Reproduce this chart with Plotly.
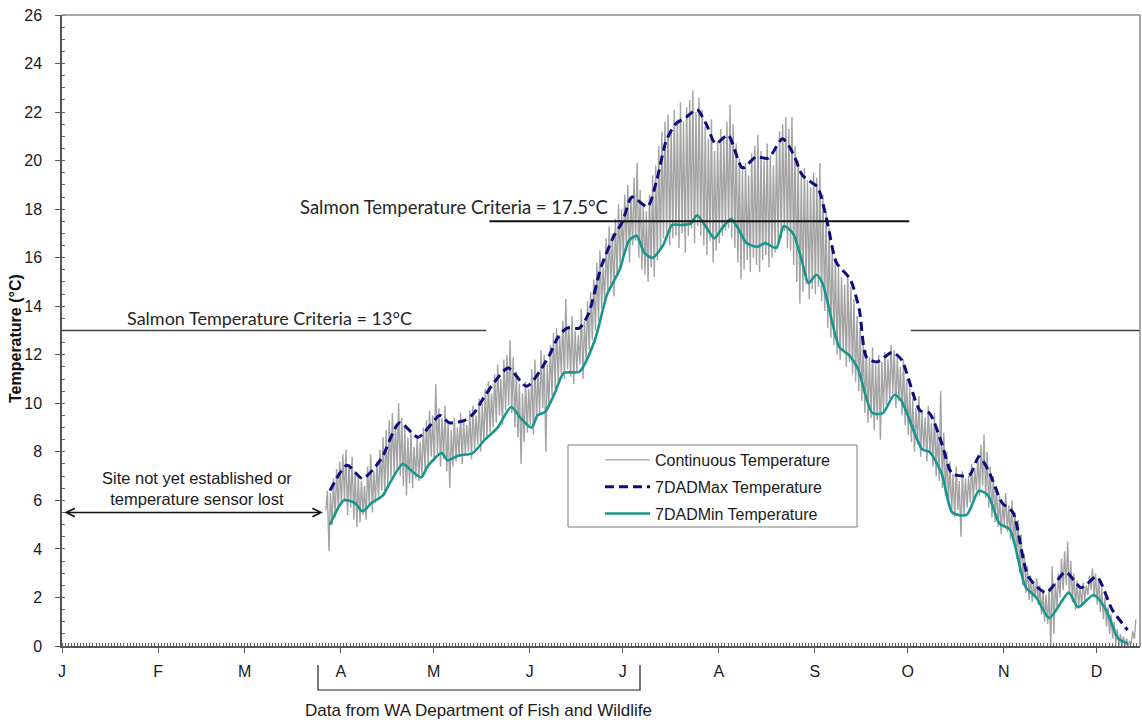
import plotly.graph_objects as go

# ---------------- data ----------------
month_starts = [0, 31, 59, 90, 120, 151, 181, 212, 243, 273, 304, 334]
month_labels = ["J", "F", "M", "A", "M", "J", "J", "A", "S", "O", "N", "D"]

cont_start_day = 85
cont_hi = [
    6.4, 6.3, 6.9, 7.3, 7.6, 7.9, 8.1, 7.5, 7.8, 7.2,
    7.0, 6.8, 6.6, 7.4, 7.9, 7.2, 7.6, 8.1, 8.6, 8.9,
    9.3, 9.6, 9.1, 10.0, 9.4, 9.0, 8.6, 8.8, 8.2, 8.6,
    8.4, 9.0, 9.3, 9.7, 9.5, 10.8, 9.8, 9.4, 9.9, 9.2,
    8.9, 9.4, 9.0, 9.6, 9.3, 9.1, 9.7, 9.9, 9.5, 10.2,
    10.0, 10.6, 10.9, 10.4, 11.2, 11.6, 11.0, 11.8, 12.0, 12.6,
    11.9, 11.3, 10.8, 10.4, 10.9, 10.6, 11.4, 11.8, 11.3, 12.2,
    12.0, 11.6, 12.4, 12.9, 13.1, 12.8, 13.4, 14.3, 13.2, 13.6,
    13.0, 12.8, 13.9, 13.4, 14.2, 14.6, 15.1, 15.8, 16.3, 15.6,
    16.8, 17.3, 17.0, 17.6, 18.2, 18.0, 18.6, 19.0, 18.5, 19.3,
    19.9, 18.8, 18.2, 17.9, 18.6, 19.4, 19.8, 20.6, 21.2, 21.6,
    21.9, 21.3, 22.1, 21.7, 22.4, 21.6, 22.2, 22.5, 22.9, 22.0,
    22.6, 22.1, 21.4, 20.9, 21.7, 20.4, 20.8, 21.3, 20.9, 21.6,
    22.3, 21.5, 20.7, 20.1, 19.6, 19.9, 19.4, 20.3, 20.6, 21.05,
    20.4, 20.0, 20.7, 20.2, 19.8, 20.5, 21.2, 21.5, 21.8, 21.3,
    21.8, 20.6, 20.0, 19.4, 19.7, 19.2, 18.9, 19.5, 19.3, 19.9,
    18.6, 17.9, 17.2, 16.5, 16.0, 15.6, 15.2, 14.9, 15.3, 14.8,
    14.3, 13.6, 13.1, 12.5, 12.2, 11.9, 12.3, 11.6, 12.0, 11.7,
    12.1, 11.8, 12.4, 12.2, 11.9, 11.5, 11.8, 11.0, 10.6, 10.2,
    9.8, 10.3, 9.6, 9.4, 9.9, 9.2, 9.6, 9.0, 10.5, 8.8,
    8.0, 7.6, 7.1, 7.4, 6.8, 7.2, 6.9, 7.0, 7.5, 7.3,
    7.9, 8.3, 8.7, 8.0, 7.4, 7.0, 6.6, 6.2, 5.9, 6.3,
    5.8, 6.0, 5.5, 5.2, 4.6, 3.8, 3.3, 2.9, 2.6, 2.8,
    2.5, 2.3, 2.1, 2.4, 3.3, 2.6, 3.0, 3.6, 3.9, 4.3,
    3.5, 3.0, 2.7, 2.4, 2.6, 2.5, 2.9, 3.2, 3.0, 2.8,
    2.4, 2.0, 1.6, 1.3, 1.0, 0.7, 0.5, 0.4, 0.3, 0.2, 0.6, 1.1,
]
cont_lo = [
    5.6, 3.9, 5.0, 5.3, 5.6, 5.8, 6.0, 5.4, 5.7, 5.2,
    4.9, 5.1, 5.4, 5.2, 5.8, 5.5, 5.9, 6.1, 6.4, 6.2,
    6.6, 6.9, 7.1, 7.3, 7.0, 6.6, 6.2, 6.7, 6.5, 6.9,
    6.8, 7.0, 7.3, 7.5, 7.8, 7.6, 7.9, 7.4, 7.7, 7.2,
    6.5, 7.4, 7.6, 7.8, 7.5, 7.9, 8.0, 7.7, 8.1, 8.3,
    8.0, 8.4, 8.6, 8.8, 9.0, 9.2, 9.5, 9.1, 9.7, 9.9,
    9.6, 9.0, 8.6, 7.5, 8.4, 8.8, 9.1, 8.7, 9.3, 9.6,
    9.8, 8.0, 9.9, 10.3, 10.6, 10.9, 11.2, 11.0, 11.4, 11.1,
    10.8, 11.3, 11.6, 11.0, 11.8, 12.2, 12.6, 13.0, 13.4, 13.9,
    14.2, 14.5, 14.9, 14.4, 15.2, 15.6, 16.0, 16.3, 15.8, 16.5,
    16.7, 16.0, 15.5, 15.3, 15.0, 15.6, 15.2, 15.9, 16.3, 16.8,
    17.0, 16.5, 16.8, 16.9, 16.4, 17.0, 16.2, 16.9, 17.2, 16.6,
    17.3, 16.9, 16.5, 16.1, 16.7, 15.8, 16.3, 16.6, 16.9, 17.1,
    17.2, 16.8, 16.4, 15.8, 15.1, 15.5, 15.9, 15.4, 16.0, 15.7,
    15.4, 15.9, 16.1, 15.6, 16.0, 16.2, 16.6, 16.8, 17.1, 16.4,
    16.3, 15.7, 15.0, 14.1, 14.6, 14.9, 14.3, 14.7, 14.5, 14.8,
    14.2, 13.8, 13.1, 12.7, 12.4, 12.0, 11.8, 12.1, 11.5, 11.7,
    11.2, 10.9, 10.5, 10.1, 9.6, 9.2, 9.4, 8.9, 9.3, 8.5,
    9.6, 9.9, 10.2, 10.4, 9.8, 10.1, 9.5, 9.1, 8.7, 8.4,
    8.0, 8.3, 7.8, 8.1, 7.6, 7.9, 7.4, 7.0, 6.8, 6.5,
    6.2, 5.8, 5.5, 5.3, 5.6, 4.5, 5.4, 5.7, 5.9, 6.0,
    6.4, 6.2, 6.6, 6.1, 5.7, 5.3, 5.1, 4.9, 4.6, 5.0,
    4.7, 4.4, 4.2, 3.6, 3.0, 2.5, 2.2, 1.9, 1.8, 2.0,
    1.7, 1.3, 1.0, 0.9, 0.0, 0.5, 1.6, 2.0, 2.3, 2.5,
    2.1, 1.8, 1.5, 1.6, 1.7, 1.9, 2.1, 2.3, 2.0, 1.7,
    1.4, 1.1, 0.8, 0.5, 0.3, 0.1, 0.0, 0.0, 0.0, 0.0, 0.1, 0.3,
]

max7_day = [86.5, 92, 97, 103, 109, 115, 122, 125, 130, 133,
            137, 144, 150, 157, 160, 163, 167, 170, 174, 178,
            181, 184, 189, 192, 195, 198, 201.6, 205, 208, 211,
            215, 219.7, 224, 228, 232.6, 236, 239, 242, 244, 247,
            250, 254.5, 257.4, 259.7, 263, 268, 271, 277, 280, 284,
            287.4, 293, 296, 299, 303.5, 307, 312, 317.7, 324, 329,
            334, 339, 344]
max7_val = [6.4, 7.45, 6.9, 7.7, 9.2, 8.6, 9.5, 9.2, 9.3, 9.6,
            10.4, 11.45, 10.7, 11.9, 12.7, 13.1, 13.1, 13.7, 15.6, 16.85,
            17.5, 18.5, 18.1, 19.2, 20.8, 21.5, 21.8, 22.1, 21.5, 20.7,
            21.05, 19.7, 20.15, 20.1, 20.9, 20.3, 19.4, 19.1, 18.9, 17.5,
            15.8, 15.1, 13.85, 11.9, 11.7, 12.1, 11.8, 9.7, 9.6, 8.35,
            7.1, 7.05, 7.8, 7.25, 5.9, 5.5, 2.85, 2.2, 3.05, 2.4,
            2.85, 1.5, 0.66]

min7_day = [86.5, 91, 94.5, 97, 100, 103.5, 106, 110, 113, 116,
            118, 122.6, 124.5, 128, 132.6, 136.5, 140.6, 145, 148, 151.6,
            153.5, 156, 159, 162, 167, 172, 176, 180, 183, 185.5,
            188, 190.6, 194, 197, 200, 203, 205, 208, 210.6, 213,
            216, 218.7, 221, 224.5, 227, 230.6, 233, 236, 239, 241,
            243.5, 245.5, 251, 254, 257, 261.6, 265, 268.7, 271, 277.7,
            280, 284, 287.4, 292, 296, 299, 302.6, 306, 311, 314.5,
            318.7, 325, 328, 333, 337, 341, 344]
min7_val = [5.0, 6.0, 5.9, 5.55, 5.9, 6.2, 6.75, 7.5, 7.2, 6.95,
            7.4, 7.95, 7.65, 7.85, 7.95, 8.5, 9.0, 9.85, 9.4, 9.0,
            9.5, 9.65, 10.4, 11.25, 11.3, 12.6, 14.5, 15.5, 16.7, 16.9,
            16.2, 16.0, 16.5, 17.35, 17.35, 17.4, 17.75, 17.25, 16.8, 17.2,
            17.6, 17.1, 16.6, 16.45, 16.6, 16.4, 17.3, 17.0, 15.8, 14.95,
            15.3, 14.95, 12.3, 12.0, 11.4, 9.6, 9.6, 10.35, 10.1, 8.1,
            8.0, 7.1, 5.5, 5.4, 6.4, 6.2, 5.05, 4.8, 2.45, 2.0,
            1.15, 2.2, 1.6, 2.1, 1.5, 0.3, 0.1]

criteria_13 = 13.0
criteria_13_spans = [(0, 137), (274, 348)]
criteria_175 = 17.5
criteria_175_span = (138, 273.5)
no_data_end_day = 84.2

# ---------------- build ----------------
cont_x, cont_y = [], []
for i, (lo, hi) in enumerate(zip(cont_lo, cont_hi)):
    d = cont_start_day + i
    cont_x += [d + 0.2, d + 0.65]
    cont_y += [lo, hi]

ARIAL = "Arial, Liberation Sans, sans-serif"
CAL = "Lato, Open Sans, sans-serif"

fig = go.Figure()
fig.add_trace(go.Scatter(x=cont_x, y=cont_y, mode="lines", name="Continuous Temperature",
                         line=dict(color="#a3a3a3", width=1.4), legendgroup="a"))
fig.add_trace(go.Scatter(x=max7_day, y=max7_val, mode="lines", name="7DADMax Temperature",
                         line=dict(color="#0d0d80", width=3, dash="9px,5px", shape="spline", smoothing=0.7),
                         legendgroup="b"))
fig.add_trace(go.Scatter(x=min7_day, y=min7_val, mode="lines", name="7DADMin Temperature",
                         line=dict(color="#17978b", width=2.6, shape="spline", smoothing=0.7),
                         legendgroup="c"))

shapes = []
for a, b in criteria_13_spans:
    shapes.append(dict(type="line", xref="x", yref="y", x0=a, x1=b, y0=criteria_13, y1=criteria_13,
                       line=dict(color="#404040", width=1.5), layer="above"))
shapes.append(dict(type="line", xref="x", yref="y", x0=criteria_175_span[0], x1=criteria_175_span[1],
                   y0=criteria_175, y1=criteria_175, line=dict(color="#111111", width=2), layer="above"))
# frame top / right
shapes.append(dict(type="line", xref="paper", yref="paper", x0=0, x1=1, y0=1, y1=1,
                   line=dict(color="#8c8c8c", width=1.5)))
shapes.append(dict(type="line", xref="paper", yref="paper", x0=1, x1=1, y0=0, y1=1,
                   line=dict(color="#8c8c8c", width=1.5)))
# legend box
shapes.append(dict(type="rect", xref="paper", yref="paper",
                   x0=(568 - 62) / 1078, x1=(857 - 62) / 1078,
                   y0=(646 - 527) / 631, y1=(646 - 445) / 631,
                   line=dict(color="#7f7f7f", width=1), fillcolor="white", layer="above"))
# bracket under axis
bx0, bx1 = (318 - 62) / 1078, (640 - 62) / 1078
by0, by1 = (646 - 665) / 631, (646 - 690) / 631
shapes.append(dict(type="path", xref="paper", yref="paper",
                   path=f"M{bx0},{by0} L{bx0},{by1} L{bx1},{by1} L{bx1},{by0}",
                   line=dict(color="#222222", width=1.2)))

annotations = [
    dict(x=67, y=13.5, xref="x", yref="y", text="Salmon Temperature Criteria = 13°C", showarrow=False,
         font=dict(family=CAL, size=18, color="#262626")),
    dict(x=126.5, y=18.1, xref="x", yref="y", text="Salmon Temperature Criteria = 17.5°C", showarrow=False,
         font=dict(family=CAL, size=18.5, color="#262626")),
    dict(x=43.5, y=6.5, xref="x", yref="y", text="Site not yet established or<br>temperature sensor lost",
         showarrow=False, font=dict(family=ARIAL, size=16.5, color="#1a1a1a")),
    dict(x=no_data_end_day, y=5.5, ax=0.3, ay=5.5, xref="x", yref="y", axref="x", ayref="y",
         text="", showarrow=True, arrowhead=5, startarrowhead=5, arrowside="end+start",
         arrowsize=1.2, arrowwidth=1.4, arrowcolor="#111111"),
    dict(x=(478 - 62) / 1078, y=(646 - 710) / 631, xref="paper", yref="paper",
         xanchor="center", yanchor="middle",
         text="Data from WA Department of Fish and Wildlife", showarrow=False,
         font=dict(family=ARIAL, size=17, color="#1a1a1a")),
    dict(x=(15 - 62) / 1078, y=(646 - 339) / 631, xref="paper", yref="paper",
         xanchor="center", yanchor="middle",
         text="<b>Temperature (°C)</b>", textangle=-90, showarrow=False,
         font=dict(family=ARIAL, size=16, color="#111111")),
]

fig.update_layout(
    width=1142, height=723,
    margin=dict(l=62, r=2, t=15, b=77),
    paper_bgcolor="white", plot_bgcolor="white",
    showlegend=True,
    legend=dict(x=(600 - 62) / 1078, y=(646 - 443) / 631, xanchor="left", yanchor="top",
                bgcolor="rgba(0,0,0,0)", borderwidth=0, tracegroupgap=3, itemwidth=45,
                font=dict(family=ARIAL, size=16, color="#1a1a1a")),
    shapes=shapes, annotations=annotations,
    font=dict(family=ARIAL, color="#1a1a1a"),
)
fig.update_xaxes(range=[0, 348], showgrid=False, zeroline=False,
                 showline=True, linecolor="#555555", linewidth=1.5,
                 tickmode="array", tickvals=month_starts, ticktext=month_labels,
                 ticks="outside", ticklen=5, tickcolor="#555555", ticklabelstandoff=5,
                 tickfont=dict(family=ARIAL, size=16, color="#1a1a1a"),
                 minor=dict(ticks="inside", ticklen=3, tickmode="linear", tick0=0, dtick=1,
                            tickcolor="#666666", showgrid=False))
fig.update_yaxes(range=[0, 26], showgrid=False, zeroline=False,
                 showline=True, linecolor="#555555", linewidth=1.5,
                 tickmode="linear", tick0=0, dtick=2,
                 ticks="outside", ticklen=5, tickcolor="#555555", ticklabelstandoff=10,
                 tickfont=dict(family=ARIAL, size=16, color="#1a1a1a"),
                 minor=dict(ticks="inside", ticklen=3, dtick=0.5, tickcolor="#666666", showgrid=False))

post = ("document.body.style.margin='0';document.body.style.overflow='hidden';"
        "var gd=document.getElementById('{plot_id}');"
        "Plotly.relayout(gd,{width:1142,height:723});")
fig.write_html("out.html", config={"responsive": False, "displayModeBar": False}, post_script=post)
